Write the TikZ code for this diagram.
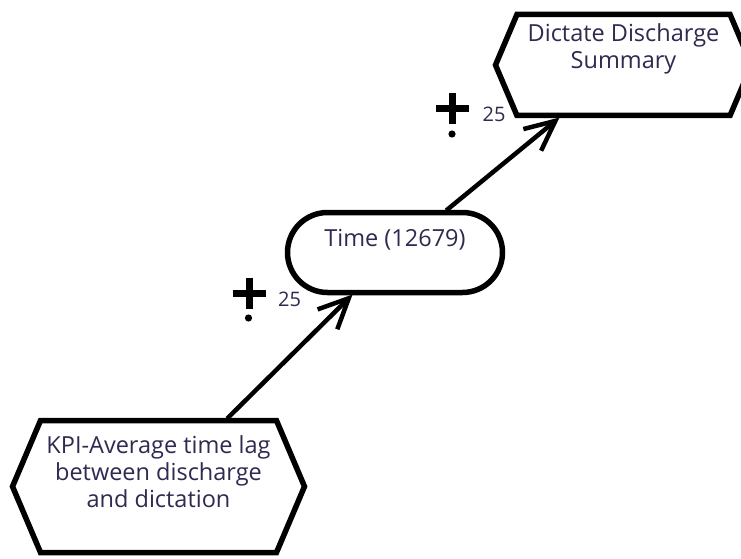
\documentclass[tikz,border=0pt]{standalone}
\usepackage{fontspec}
\setmainfont{Open Sans}
\usepackage{tikz}
\usetikzlibrary{arrows.meta,positioning,shapes.misc,shapes.symbols}
\definecolor{inkline}{HTML}{000000}
\definecolor{inktext}{HTML}{2E2A50}
\tikzset{
  hexbox/.style={
    signal, signal to=east and west, signal pointer angle=134,
    draw=inkline, line width=5.5pt, fill=white,
    inner sep=0pt, outer sep=2pt
  },
  timebox/.style={
    rounded rectangle, draw=inkline, line width=5.5pt, fill=white,
    minimum width=215pt, minimum height=80pt,
    inner sep=0pt, outer sep=2pt
  },
  boxtext/.style={
    font=\fontsize{23.5}{27}\selectfont, text=inktext, align=center,
    inner sep=0pt
  },
  weighttext/.style={
    font=\fontsize{20}{24}\selectfont, text=inktext, inner sep=0pt
  },
  flowarrow/.style={
    -{Straight Barb[length=30pt,width=28pt]}, line width=4.5pt,
    color=inkline
  },
  plusbar/.style={line width=7pt, color=inkline},
}

\begin{document}
\begin{tikzpicture}[x=1pt, y=1pt]
    \useasboundingbox (0,0) rectangle (741,-559);

    % ── Shapes ──
    \node[hexbox, minimum width=256pt, minimum height=101pt] (dictate) at (623.5,-65) {};
    \node[timebox] (time) at (395,-252.5) {};
    \node[hexbox, minimum width=292pt, minimum height=132pt] (kpi) at (158.5,-486.5) {};

    % ── Texts ──
    \node[boxtext] (dictatetext) at ([yshift=16pt]dictate.center) {Dictate Discharge\\Summary};
    \node[boxtext] (timetext) at ([yshift=13pt]time.center) {Time (12679)};
    \node[boxtext] (kpitext) at ([yshift=15pt]kpi.center) {KPI-Average time lag\\between discharge\\and dictation};

    % ── Connectors ──
    \draw[flowarrow] (kpi) -- (time);
    \draw[flowarrow] (time) -- (dictate);

    % ── Weights ──
    \foreach \px/\py in {249/-293, 452.5/-109} {
        \draw[plusbar] (\px-16.5,\py) -- (\px+16.5,\py);
        \draw[plusbar] (\px,\py+15.5) -- (\px,\py-15.5);
        \fill[inkline] (\px-0.5,\py-25) circle (3.6pt);
    }
    \node[weighttext] (kpiweight) at (289.5,-299) {25};
    \node[weighttext] (timeweight) at (494,-114) {25};
\end{tikzpicture}
\end{document}
